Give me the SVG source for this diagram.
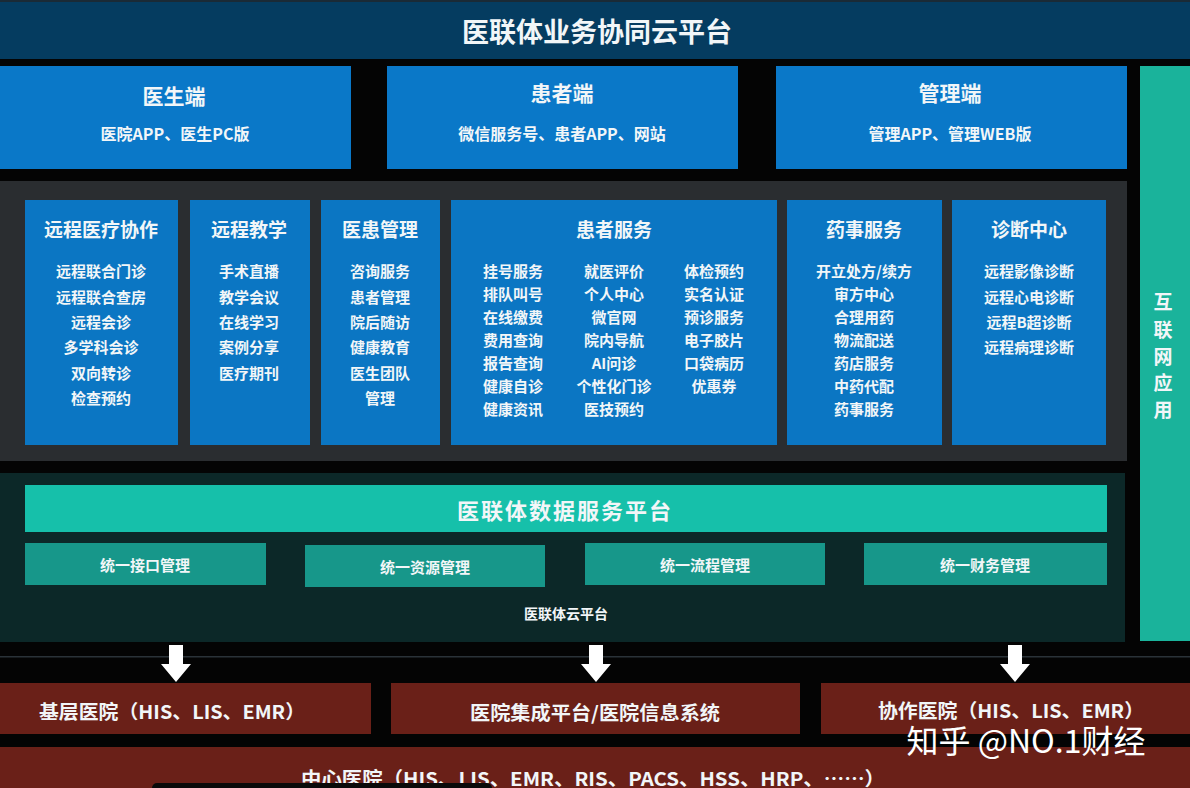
<svg xmlns="http://www.w3.org/2000/svg" width="1190" height="788" viewBox="0 0 1190 788">
<style>
text{font-family:"Noto Sans CJK SC","Noto Sans",sans-serif;fill:#f2f6f8;text-anchor:middle;dominant-baseline:central;font-weight:700}
.client{fill:#0a78c8}
.mod{fill:#0b76c3}
.ct{font-size:21px}
.cs{font-size:16px}
.ss{font-size:15px}
.mt{font-size:19px}
.it{font-size:15px}
.sub{fill:#17978a}
.red{fill:#6a2018}
.rt{font-size:19px}
.arrow{fill:#ffffff}
</style>
<rect x="0" y="0" width="1190" height="788" fill="#040404"/>
<g id="top-bar">
<rect x="0" y="0" width="1190" height="59" fill="#053c60"/>
<rect x="0" y="0" width="1190" height="2" fill="#1a2a36"/>
<text x="597" y="30" style="font-size:27px">医联体业务协同云平台</text>
</g>
<g id="doctor-client">
<rect class="client" x="0" y="66" width="351" height="103"/>
<text class="ct" x="174" y="95">医生端</text>
<text class="cs" x="175" y="133">医院APP、医生PC版</text>
</g>
<g id="patient-client">
<rect class="client" x="387" y="66" width="351" height="103"/>
<text class="ct" x="562" y="92">患者端</text>
<text class="cs" x="562" y="133">微信服务号、患者APP、网站</text>
</g>
<g id="admin-client">
<rect class="client" x="776" y="66" width="351" height="103"/>
<text class="ct" x="950" y="92">管理端</text>
<text class="cs" x="950" y="133">管理APP、管理WEB版</text>
</g>
<g id="internet-app">
<rect x="1140" y="66" width="50" height="575" fill="#1ab39b"/>
<text x="1163" y="300" style="font-size:19px">互</text>
<text x="1163" y="328" style="font-size:19px">联</text>
<text x="1163" y="355" style="font-size:19px">网</text>
<text x="1163" y="381" style="font-size:19px">应</text>
<text x="1163" y="408" style="font-size:19px">用</text>
</g>
<g id="app-panel">
<rect x="0" y="181" width="1127" height="280" fill="#2a2d30"/>
</g>
<g id="remote-collab">
<rect class="mod" x="25" y="200" width="153" height="245"/>
<text class="mt" x="101" y="228">远程医疗协作</text>
<text class="it" x="101" y="270">远程联合门诊</text>
<text class="it" x="101" y="296">远程联合查房</text>
<text class="it" x="101" y="321">远程会诊</text>
<text class="it" x="101" y="346">多学科会诊</text>
<text class="it" x="101" y="372">双向转诊</text>
<text class="it" x="101" y="397">检查预约</text>
</g>
<g id="remote-teaching">
<rect class="mod" x="190" y="200" width="120" height="245"/>
<text class="mt" x="249" y="228">远程教学</text>
<text class="it" x="249" y="270">手术直播</text>
<text class="it" x="249" y="296">教学会议</text>
<text class="it" x="249" y="321">在线学习</text>
<text class="it" x="249" y="346">案例分享</text>
<text class="it" x="249" y="372">医疗期刊</text>
</g>
<g id="doctor-patient-mgmt">
<rect class="mod" x="321" y="200" width="119" height="245"/>
<text class="mt" x="380" y="228">医患管理</text>
<text class="it" x="380" y="270">咨询服务</text>
<text class="it" x="380" y="296">患者管理</text>
<text class="it" x="380" y="321">院后随访</text>
<text class="it" x="380" y="346">健康教育</text>
<text class="it" x="380" y="372">医生团队</text>
<text class="it" x="380" y="397">管理</text>
</g>
<g id="patient-service">
<rect class="mod" x="451" y="200" width="326" height="245"/>
<text class="mt" x="614" y="228">患者服务</text>
<text class="it" x="513" y="270">挂号服务</text>
<text class="it" x="513" y="293">排队叫号</text>
<text class="it" x="513" y="316">在线缴费</text>
<text class="it" x="513" y="339">费用查询</text>
<text class="it" x="513" y="362">报告查询</text>
<text class="it" x="513" y="385">健康自诊</text>
<text class="it" x="513" y="408">健康资讯</text>
<text class="it" x="614" y="270">就医评价</text>
<text class="it" x="614" y="293">个人中心</text>
<text class="it" x="614" y="316">微官网</text>
<text class="it" x="614" y="339">院内导航</text>
<text class="it" x="614" y="362">AI问诊</text>
<text class="it" x="614" y="385">个性化门诊</text>
<text class="it" x="614" y="408">医技预约</text>
<text class="it" x="714" y="270">体检预约</text>
<text class="it" x="714" y="293">实名认证</text>
<text class="it" x="714" y="316">预诊服务</text>
<text class="it" x="714" y="339">电子胶片</text>
<text class="it" x="714" y="362">口袋病历</text>
<text class="it" x="714" y="385">优惠券</text>
</g>
<g id="pharmacy-service">
<rect class="mod" x="787" y="200" width="155" height="245"/>
<text class="mt" x="864" y="228">药事服务</text>
<text class="it" x="864" y="270">开立处方/续方</text>
<text class="it" x="864" y="293">审方中心</text>
<text class="it" x="864" y="316">合理用药</text>
<text class="it" x="864" y="339">物流配送</text>
<text class="it" x="864" y="362">药店服务</text>
<text class="it" x="864" y="385">中药代配</text>
<text class="it" x="864" y="408">药事服务</text>
</g>
<g id="diagnosis-center">
<rect class="mod" x="952" y="200" width="154" height="245"/>
<text class="mt" x="1029" y="228">诊断中心</text>
<text class="it" x="1029" y="270">远程影像诊断</text>
<text class="it" x="1029" y="296">远程心电诊断</text>
<text class="it" x="1029" y="321">远程B超诊断</text>
<text class="it" x="1029" y="346">远程病理诊断</text>
</g>
<g id="cloud-platform">
<rect x="0" y="473" width="1125" height="169" fill="#0c2828"/>
<text x="566" y="613" style="font-size:14px">医联体云平台</text>
</g>
<g id="data-service-platform">
<rect x="25" y="485" width="1082" height="47" fill="#16c0aa"/>
<text x="565" y="509" style="font-size:22px;letter-spacing:2px">医联体数据服务平台</text>
</g>
<g id="unified-interface">
<rect class="sub" x="25" y="543" width="241" height="42"/>
<text class="ss" x="145" y="564">统一接口管理</text>
</g>
<g id="unified-resource">
<rect class="sub" x="305" y="545" width="240" height="42"/>
<text class="ss" x="425" y="566">统一资源管理</text>
</g>
<g id="unified-process">
<rect class="sub" x="585" y="543" width="240" height="42"/>
<text class="ss" x="705" y="564">统一流程管理</text>
</g>
<g id="unified-finance">
<rect class="sub" x="864" y="543" width="243" height="42"/>
<text class="ss" x="985" y="564">统一财务管理</text>
</g>
<rect x="0" y="656" width="1190" height="1.5" fill="#2a3238"/>
<g id="connectors">
<polygon class="arrow" points="169,645 183,645 183,664 191,664 176,682 161,664 169,664"/>
<polygon class="arrow" points="589,645 603,645 603,664 611,664 596,682 581,664 589,664"/>
<polygon class="arrow" points="1008,645 1022,645 1022,664 1030,664 1015,682 1000,664 1008,664"/>
</g>
<g id="primary-hospital">
<rect class="red" x="0" y="683" width="371" height="51"/>
<text class="rt" x="172" y="710" textLength="266" lengthAdjust="spacingAndGlyphs">基层医院（HIS、LIS、EMR）</text>
</g>
<g id="hospital-integration">
<rect class="red" x="391" y="683" width="409" height="51"/>
<text class="rt" x="595" y="711" textLength="250" lengthAdjust="spacingAndGlyphs">医院集成平台/医院信息系统</text>
</g>
<g id="partner-hospital">
<rect class="red" x="821" y="683" width="369" height="51"/>
<text class="rt" x="1011" y="709" textLength="266" lengthAdjust="spacingAndGlyphs">协作医院（HIS、LIS、EMR）</text>
</g>
<g id="central-hospital">
<rect class="red" x="0" y="747" width="1190" height="41"/>
<text class="rt" x="593" y="777" textLength="584" lengthAdjust="spacingAndGlyphs">中心医院（HIS、LIS、EMR、RIS、PACS、HSS、HRP、……）</text>
</g>
<rect x="152" y="783" width="340" height="10" rx="5" fill="#0a0a0a"/>
<text x="1026" y="739" style="font-size:32px;font-weight:400;fill:#ffffff">知乎 @NO.1财经</text>
</svg>
